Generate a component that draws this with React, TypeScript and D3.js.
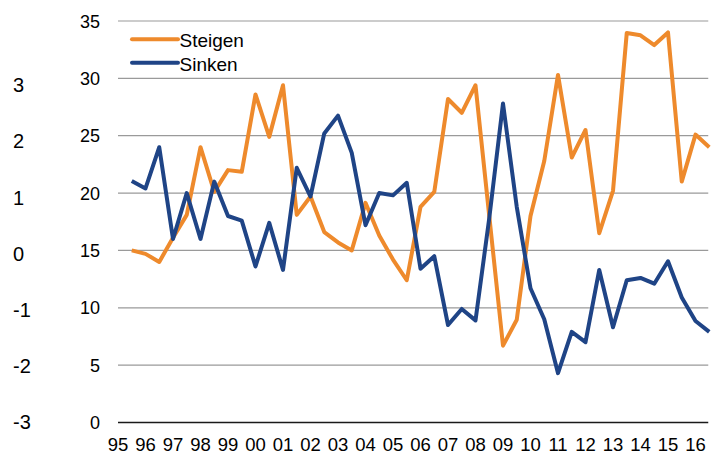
import React from "react";
import * as d3 from "d3";

const years = ["95","96","97","98","99","00","01","02","03","04","05","06","07","08","09","10","11","12","13","14","15","16"];
const rightTicks = [0, 5, 10, 15, 20, 25, 30, 35];
const leftTicks = [-3, -2, -1, 0, 1, 2, 3];
const seriesNames = ["Steigen", "Sinken"];
const seriesColors = ["#EE8A2C", "#1F4486"];

const steigen = [
  15.0, 14.7, 14.0, 16.1, 18.1, 24.0, 20.1, 22.0, 21.85, 28.6,
  24.9, 29.4, 18.1, 19.7, 16.6, 15.7, 15.0, 19.15, 16.3, 14.2,
  12.4, 18.8, 20.1, 28.2, 27.0, 29.4, 18.0, 6.7, 8.96, 18.0,
  22.8, 30.3, 23.1, 25.5, 16.5, 20.2, 33.95, 33.75, 32.9, 34.0,
  21.0, 25.1, 24.0,
];
const sinken = [
  21.05, 20.4, 24.0, 16.0, 20.0, 16.0, 21.0, 18.0, 17.6, 13.6,
  17.4, 13.3, 22.2, 19.7, 25.2, 26.75, 23.5, 17.2, 20.0, 19.8,
  20.9, 13.4, 14.5, 8.5, 9.9, 8.9, 17.8, 27.8, 18.8, 11.7,
  9.0, 4.3, 7.9, 7.0, 13.3, 8.3, 12.4, 12.6, 12.1, 14.05,
  10.9, 8.85, 7.9,
];

const W = 714;
const H = 453;
const left = 118;
const right = 709.25;
const top = 21;
const bottom = 422.5;

export default function App() {
  const x = d3.scaleLinear().domain([0, 43]).range([left, right]);
  const y = d3.scaleLinear().domain([0, 35]).range([bottom, top]);
  const yL = d3.scaleLinear().domain([-3, 3]).range([422, 84.8]);
  const line = d3
    .line<number>()
    .x((_, i) => x(i + 1))
    .y((d) => y(d))
    .curve(d3.curveLinear);
  const series = [steigen, sinken];

  return (
    <div style={{ position: "absolute", left: 0, top: 0 }}>
      <svg width={W} height={H} style={{ display: "block", fontFamily: "'Liberation Sans', Arial, sans-serif" }}>
        <rect x={0} y={0} width={W} height={H} fill="#fff" />
        {rightTicks.map((t) =>
          t === 0 ? null : (
            <line key={"g" + t} x1={left} x2={right - 1} y1={y(t)} y2={y(t)} stroke="#9a9a9a" strokeWidth={1.2} />
          )
        )}
        {rightTicks.map((t) => (
          <text key={"r" + t} x={100} y={y(t) + 6.5} textAnchor="end" fontSize={18} fill="#000">
            {t}
          </text>
        ))}
        {leftTicks.map((t) => (
          <text key={"l" + t} x={13} y={yL(t) + 7.3} textAnchor="start" fontSize={20} fill="#000">
            {t}
          </text>
        ))}
        {years.map((yr, k) => (
          <text key={"x" + yr} x={x(2 * k)} y={451} textAnchor="middle" fontSize={18.5} fill="#000">
            {yr}
          </text>
        ))}
        {series.map((s, i) => (
          <path
            key={"s" + i}
            d={line(s) || ""}
            fill="none"
            stroke={seriesColors[i]}
            strokeWidth={4}
            strokeLinejoin="round"
            strokeLinecap="butt"
          />
        ))}
        <line x1={left} x2={right - 1} y1={bottom} y2={bottom} stroke="#1a1a1a" strokeWidth={1.3} />
        {seriesNames.map((n, i) => (
          <g key={"leg" + n}>
            <line
              x1={132}
              x2={178}
              y1={39.3 + i * 23.4}
              y2={39.3 + i * 23.4}
              stroke={seriesColors[i]}
              strokeWidth={4}
              strokeLinecap="round"
            />
            <text x={179.5} y={47.2 + i * 23.4} fontSize={19} fill="#000">
              {n}
            </text>
          </g>
        ))}
      </svg>
    </div>
  );
}
